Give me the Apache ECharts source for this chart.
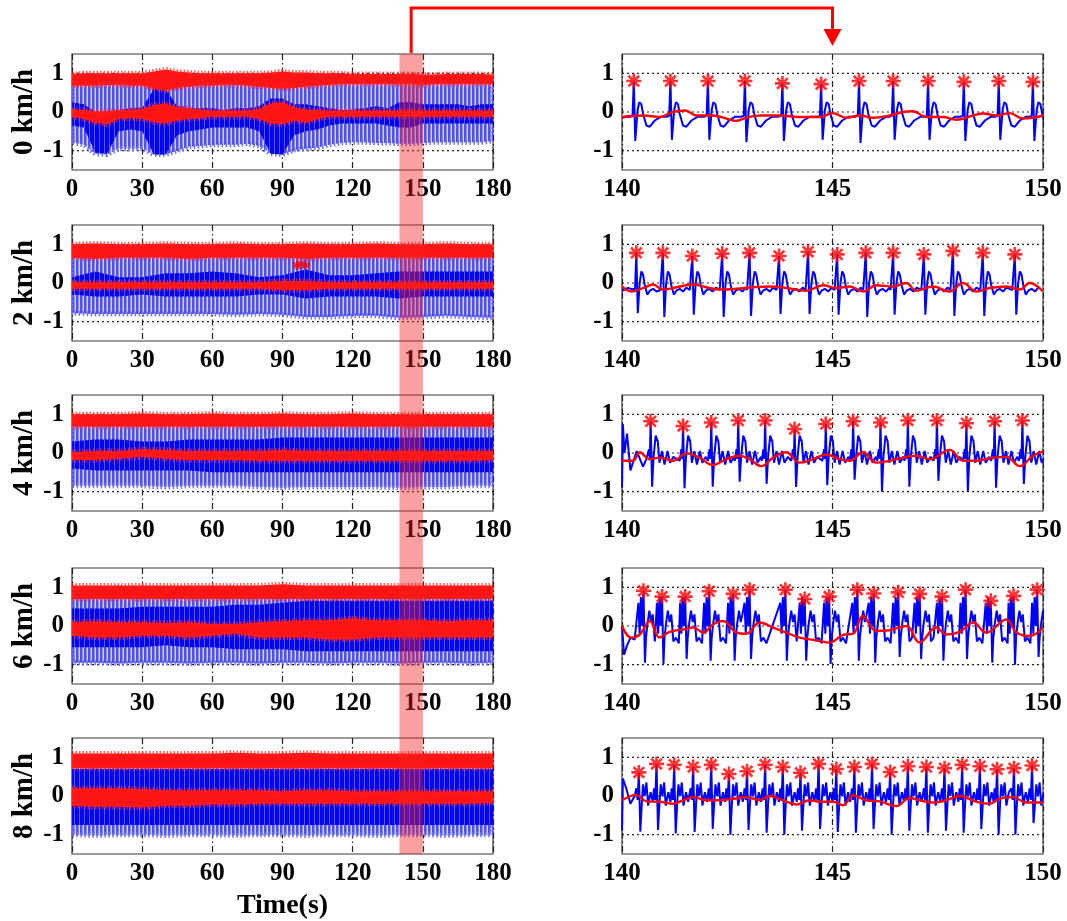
<!DOCTYPE html>
<html><head><meta charset="utf-8">
<script src="https://cdn.jsdelivr.net/npm/echarts@6/dist/echarts.min.js"></script>
<style>html,body{margin:0;padding:0;background:#fff}#c{width:1067px;height:921px}</style>
</head><body><div id="c"></div>
<script>
// ---------------- DATA ----------------
const rowLabels = ['0 km/h','2 km/h','4 km/h','6 km/h','8 km/h'];
const leftTicks = [0,30,60,90,120,150,180];
const rightTicks = [140,145,150];
const yTicks = [-1,0,1];
const envTimes5 = [0,5,10,15,20,25,30,35,40,45,50,55,60,65,70,75,80,85,90,95,100,105,110,115,120,125,130,135,140,145,150,155,160,165,170,175,180];
const envTimes10 = [0,10,20,30,40,50,60,70,80,90,100,110,120,130,140,150,160,170,180];
const envTimes = [envTimes5, envTimes10, envTimes10, envTimes10, envTimes10];

// left column envelopes (row 1 read every 5 s, others every 10 s)
const blueTop = [0.72,0.7,0.7,0.75,0.75];
const outLo = [
 [-0.78,-0.85,-1.08,-1.1,-0.95,-0.95,-0.95,-1.1,-1.1,-1.0,-0.9,-0.88,-0.85,-0.85,-0.85,-0.82,-0.88,-1.08,-1.1,-0.98,-0.95,-0.92,-0.85,-0.8,-0.78,-0.78,-0.8,-0.8,-0.82,-0.82,-0.8,-0.78,-0.78,-0.78,-0.78,-0.78,-0.75],
 [-0.78,-0.8,-0.8,-0.8,-0.8,-0.8,-0.8,-0.82,-0.8,-0.82,-0.88,-0.88,-0.85,-0.85,-0.9,-0.88,-0.85,-0.88,-0.9],
 [-0.85,-0.85,-0.85,-0.85,-0.88,-0.85,-0.85,-0.85,-0.88,-0.9,-0.88,-0.88,-0.88,-0.88,-0.9,-0.88,-0.88,-0.85,-0.85],
 [-0.95,-0.95,-0.97,-0.95,-0.95,-0.97,-0.95,-0.95,-0.97,-0.95,-0.95,-0.97,-0.95,-0.95,-0.97,-0.95,-0.95,-0.97,-0.95],
 [-1.0,-1.02,-1.0,-1.0,-1.02,-1.0,-1.0,-1.02,-1.0,-1.0,-1.02,-1.0,-1.0,-1.02,-1.0,-1.0,-1.02,-1.0,-1.0]
];
const inHi = [
 [0.25,0.2,0.0,0.0,0.05,0.1,0.1,0.6,0.6,0.15,0.1,0.1,0.1,0.05,0.1,0.1,0.15,0.35,0.35,0.2,0.2,0.15,0.1,0.05,0.05,0.1,0.15,0.1,0.25,0.25,0.2,0.2,0.2,0.2,0.15,0.2,0.2],
 [0.15,0.3,0.15,0.15,0.25,0.25,0.3,0.25,0.15,0.2,0.35,0.2,0.2,0.25,0.3,0.3,0.3,0.3,0.3],
 [0.3,0.35,0.35,0.3,0.3,0.35,0.35,0.35,0.35,0.4,0.4,0.4,0.4,0.4,0.4,0.4,0.4,0.4,0.4],
 [0.45,0.45,0.45,0.5,0.5,0.5,0.5,0.55,0.55,0.6,0.65,0.65,0.65,0.65,0.65,0.65,0.65,0.65,0.65],
 [0.7,0.7,0.7,0.7,0.7,0.7,0.7,0.7,0.7,0.7,0.7,0.7,0.7,0.7,0.7,0.7,0.7,0.7,0.7]
];
const inLo = [
 [-0.35,-0.4,-1.05,-1.08,-0.5,-0.45,-0.5,-1.1,-1.1,-0.6,-0.5,-0.45,-0.4,-0.4,-0.4,-0.4,-0.5,-1.08,-1.1,-0.6,-0.5,-0.45,-0.35,-0.3,-0.3,-0.3,-0.3,-0.35,-0.4,-0.4,-0.3,-0.3,-0.3,-0.3,-0.3,-0.3,-0.3],
 [-0.3,-0.35,-0.35,-0.3,-0.35,-0.35,-0.35,-0.35,-0.3,-0.3,-0.4,-0.35,-0.35,-0.35,-0.4,-0.35,-0.35,-0.35,-0.35],
 [-0.4,-0.45,-0.45,-0.45,-0.45,-0.45,-0.5,-0.5,-0.5,-0.5,-0.5,-0.5,-0.5,-0.5,-0.5,-0.5,-0.5,-0.5,-0.5],
 [-0.55,-0.55,-0.55,-0.55,-0.5,-0.55,-0.55,-0.6,-0.6,-0.6,-0.65,-0.65,-0.65,-0.65,-0.65,-0.65,-0.65,-0.65,-0.65],
 [-0.75,-0.75,-0.75,-0.75,-0.75,-0.75,-0.75,-0.75,-0.75,-0.75,-0.75,-0.75,-0.75,-0.75,-0.75,-0.75,-0.75,-0.75,-0.75]
];
const pkHi = [
 [0.98,1.0,1.0,1.0,1.0,1.0,1.0,1.05,1.1,1.05,1.02,1.0,1.0,1.0,1.0,1.0,1.0,1.02,1.05,1.02,1.02,1.0,1.0,1.0,0.98,0.98,0.98,0.98,0.98,0.98,0.97,0.97,0.98,0.98,0.98,0.98,0.97],
 [1.0,1.02,1.0,1.0,1.02,1.0,1.0,1.02,1.0,1.0,1.02,1.0,1.0,1.02,1.0,1.0,1.02,1.0,1.0],
 [1.0,1.0,1.0,1.02,1.0,1.0,1.02,1.0,1.0,1.02,1.0,1.0,1.02,1.0,1.0,1.0,1.0,1.0,1.0],
 [1.05,1.05,1.05,1.05,1.05,1.05,1.05,1.05,1.05,1.08,1.05,1.05,1.05,1.05,1.05,1.05,1.05,1.05,1.05],
 [1.1,1.1,1.1,1.1,1.1,1.1,1.1,1.12,1.1,1.1,1.12,1.1,1.1,1.1,1.1,1.1,1.1,1.1,1.1]
];
const pkLo = [
 [0.68,0.68,0.68,0.7,0.7,0.68,0.68,0.6,0.55,0.62,0.65,0.68,0.68,0.7,0.7,0.68,0.65,0.62,0.6,0.62,0.65,0.68,0.7,0.72,0.72,0.72,0.72,0.72,0.72,0.72,0.7,0.72,0.72,0.72,0.72,0.72,0.72],
 [0.65,0.62,0.65,0.65,0.65,0.62,0.65,0.65,0.65,0.65,0.62,0.65,0.65,0.65,0.65,0.65,0.65,0.65,0.65],
 [0.68,0.68,0.68,0.68,0.68,0.68,0.68,0.68,0.68,0.68,0.68,0.68,0.68,0.68,0.68,0.68,0.68,0.68,0.68],
 [0.7,0.7,0.7,0.7,0.7,0.7,0.7,0.7,0.7,0.7,0.7,0.7,0.7,0.7,0.7,0.7,0.7,0.7,0.7],
 [0.72,0.72,0.72,0.72,0.72,0.72,0.72,0.72,0.72,0.72,0.72,0.72,0.72,0.72,0.72,0.72,0.72,0.72,0.72]
];
const bsHi = [
 [0.06,0.05,0.02,0.02,0.05,0.06,0.08,0.18,0.22,0.12,0.1,0.06,0.04,0.04,0.04,0.04,0.08,0.22,0.25,0.12,0.06,0.05,0.04,0.04,0.04,0.04,0.04,0.04,0.04,0.04,0.04,0.04,0.04,0.04,0.04,0.04,0.04],
 [0.02,0.02,0.02,0.02,0.02,0.02,0.02,0.02,0.02,0.05,0.05,0.02,0.02,0.02,0.02,0.02,0.02,0.02,0.02],
 [0.02,0.05,0.05,0.1,0.08,0.05,0.05,0.05,0.05,0.08,0.05,0.05,0.05,0.05,0.05,0.05,0.05,0.05,0.05],
 [0.1,0.12,0.1,0.1,0.08,0.1,0.05,0.05,0.1,0.12,0.15,0.15,0.2,0.15,0.15,0.15,0.12,0.15,0.15],
 [0.2,0.2,0.2,0.18,0.15,0.15,0.15,0.15,0.15,0.12,0.15,0.15,0.12,0.12,0.12,0.12,0.12,0.12,0.12]
];
const bsLo = [
 [-0.12,-0.18,-0.28,-0.32,-0.18,-0.16,-0.18,-0.26,-0.3,-0.22,-0.18,-0.16,-0.12,-0.12,-0.12,-0.12,-0.18,-0.3,-0.32,-0.22,-0.28,-0.18,-0.12,-0.12,-0.12,-0.12,-0.12,-0.12,-0.12,-0.12,-0.12,-0.12,-0.12,-0.12,-0.12,-0.12,-0.12],
 [-0.15,-0.15,-0.15,-0.15,-0.15,-0.15,-0.15,-0.15,-0.15,-0.18,-0.18,-0.15,-0.15,-0.15,-0.15,-0.15,-0.15,-0.15,-0.15],
 [-0.18,-0.18,-0.15,-0.1,-0.15,-0.18,-0.18,-0.18,-0.2,-0.2,-0.2,-0.2,-0.2,-0.2,-0.2,-0.2,-0.2,-0.2,-0.18],
 [-0.25,-0.3,-0.3,-0.25,-0.25,-0.3,-0.25,-0.2,-0.3,-0.3,-0.3,-0.35,-0.35,-0.3,-0.3,-0.3,-0.3,-0.3,-0.3],
 [-0.25,-0.28,-0.28,-0.3,-0.25,-0.25,-0.22,-0.22,-0.2,-0.2,-0.2,-0.2,-0.2,-0.2,-0.2,-0.2,-0.2,-0.2,-0.18]
];

// right column: R-peak times, peak values (asterisks), S-trough values
const beatT = [
 [140.28,141.15,142.04,142.92,143.81,144.73,145.63,146.44,147.27,148.12,148.95,149.76],
 [140.34,140.97,141.67,142.38,143.03,143.73,144.42,145.11,145.79,146.44,147.17,147.86,148.57,149.33],
 [140.68,141.45,142.12,142.76,143.40,144.10,144.84,145.49,146.14,146.79,147.48,148.18,148.85,149.51],
 [140.51,140.95,141.50,142.07,142.64,143.03,143.88,144.34,144.92,145.59,145.98,146.56,147.07,147.60,148.16,148.76,149.30,149.86],
 [140.40,140.82,141.24,141.69,142.12,142.54,142.97,143.40,143.82,144.24,144.67,145.09,145.52,145.94,146.37,146.79,147.23,147.66,148.08,148.50,148.91,149.31,149.74]
];
const beatV = [
 [0.8,0.8,0.8,0.8,0.74,0.72,0.8,0.8,0.8,0.78,0.8,0.78],
 [0.78,0.78,0.7,0.76,0.78,0.7,0.81,0.74,0.78,0.78,0.74,0.83,0.78,0.74],
 [0.82,0.7,0.79,0.84,0.84,0.62,0.75,0.82,0.79,0.84,0.84,0.77,0.82,0.84],
 [0.91,0.76,0.76,0.9,0.83,0.94,0.94,0.7,0.76,0.94,0.84,0.87,0.83,0.76,0.94,0.65,0.78,0.94],
 [0.61,0.83,0.81,0.75,0.81,0.57,0.64,0.81,0.75,0.6,0.83,0.7,0.75,0.83,0.62,0.77,0.75,0.72,0.81,0.77,0.69,0.72,0.79]
];
const beatS = [
 [-0.75,-0.72,-0.72,-0.78,-0.75,-0.72,-0.8,-0.72,-0.72,-0.75,-0.72,-0.75],
 [-0.78,-0.88,-0.82,-0.88,-0.85,-0.8,-0.8,-0.82,-0.88,-0.82,-0.82,-0.85,-0.85,-0.82],
 [-0.87,-0.91,-0.87,-0.74,-0.8,-0.88,-0.83,-0.69,-1.0,-0.87,-0.72,-1.0,-0.9,-0.8],
 [-0.95,-0.98,-0.85,-0.9,-0.9,-0.85,-0.9,-0.9,-0.98,-0.9,-0.95,-0.8,-0.85,-0.9,-0.85,-0.95,-1.0,-0.8],
 [-0.92,-0.88,-0.97,-0.93,-0.85,-1.0,-0.88,-0.95,-1.0,-0.9,-0.85,-0.93,-0.95,-0.85,-1.0,-0.9,-0.95,-0.9,-0.95,-0.85,-1.0,-1.0,-0.7]
];
// blue trace at start of window, and wave shape before / after each beat [offset s, value]
const leadIn = [
 [[140,-0.15],[140.15,-0.12]],
 [[140,-0.2],[140.14,-0.13],[140.25,-0.16]],
 [[140,-0.9],[140.02,0.75],[140.06,0.0],[140.12,0.5],[140.2,-0.45],[140.35,0.05],[140.5,-0.35],[140.58,-0.15]],
 [[140,0.0],[140.05,-0.74],[140.12,-0.5],[140.2,-0.3],[140.3,-0.35]],
 [[140,-0.9],[140.02,0.45],[140.1,0.2],[140.2,-0.2],[140.3,0.0]]
];
const preWave = [
 [[-0.08,-0.12],[-0.03,-0.1]],
 [[-0.06,-0.18],[-0.03,-0.15]],
 [[-0.08,-0.2],[-0.04,0.1],[-0.02,-0.15]],
 [[-0.12,0.6],[-0.09,-0.2],[-0.06,0.75],[-0.03,0.0]],
 [[-0.06,0.2],[-0.03,-0.1]]
];
const postWave = [
 [[0.09,0.05],[0.13,0.25],[0.18,0.2],[0.22,-0.05],[0.3,-0.35],[0.38,-0.38],[0.5,-0.22],[0.65,-0.12]],
 [[0.08,0.0],[0.12,0.3],[0.16,0.22],[0.2,-0.05],[0.26,-0.3],[0.32,-0.2],[0.4,-0.15],[0.48,-0.22],[0.56,-0.12]],
 [[0.07,-0.1],[0.12,0.45],[0.17,0.3],[0.21,-0.25],[0.27,0.05],[0.33,-0.3],[0.4,0.05],[0.46,-0.25],[0.54,-0.1]],
 [[0.06,-0.3],[0.1,0.1],[0.14,0.4],[0.18,0.1],[0.22,0.3],[0.27,-0.4],[0.33,-0.3],[0.4,-0.45]],
 [[0.07,-0.2],[0.1,0.3],[0.14,0.0],[0.18,0.35],[0.22,-0.25],[0.28,0.1],[0.33,-0.15]]
];
// red low-frequency trace in right column
const redTrace = [
 [[140,-0.13],[140.5,-0.09],[140.9,-0.13],[141.2,0],[141.5,0.04],[141.77,-0.09],[142.16,-0.09],[142.48,-0.17],[142.7,-0.23],[142.95,-0.15],[143.27,-0.09],[143.75,-0.09],[144.2,-0.13],[144.7,-0.13],[145,-0.03],[145.33,-0.15],[145.65,-0.09],[145.96,-0.15],[146.36,-0.09],[146.67,0],[146.91,0.02],[147.23,-0.13],[147.62,-0.13],[147.94,-0.2],[148.34,-0.09],[148.57,-0.04],[148.89,-0.09],[149.2,-0.03],[149.52,-0.17],[149.76,-0.15],[150,-0.09]],
 [[140,-0.09],[140.22,-0.22],[140.5,-0.13],[140.74,-0.04],[140.97,-0.17],[141.29,-0.11],[141.69,-0.04],[142.0,-0.11],[142.32,-0.17],[142.72,-0.15],[143.11,-0.11],[143.5,-0.09],[143.9,-0.13],[144.38,-0.2],[144.77,-0.06],[145.09,-0.13],[145.41,-0.09],[145.72,-0.22],[146.04,-0.06],[146.44,-0.09],[146.75,0],[146.99,-0.2],[147.39,-0.09],[147.78,-0.22],[148.1,0],[148.42,-0.22],[148.73,-0.13],[149.13,-0.09],[149.45,-0.17],[149.68,0],[150,-0.22]],
 [[140,-0.2],[140.26,-0.2],[140.42,0.02],[140.66,-0.16],[140.9,-0.12],[141.21,-0.2],[141.53,-0.01],[141.84,-0.12],[142.16,-0.31],[142.48,-0.16],[142.79,-0.07],[143.03,-0.16],[143.31,-0.34],[143.59,-0.12],[143.9,0.02],[144.22,-0.25],[144.54,-0.16],[144.85,-0.04],[145.17,-0.16],[145.41,-0.2],[145.72,0.02],[146.04,-0.25],[146.36,-0.2],[146.67,-0.12],[146.99,-0.07],[147.31,-0.16],[147.78,0.08],[148.1,-0.2],[148.42,-0.2],[148.81,-0.12],[149.13,-0.1],[149.45,-0.34],[149.76,-0.07],[150,0.04]],
 [[140,0],[140.22,-0.3],[140.42,-0.22],[140.66,0.13],[140.89,-0.3],[141.13,-0.15],[141.45,-0.09],[141.69,-0.04],[141.93,-0.17],[142.16,0.04],[142.4,0.13],[142.72,-0.17],[142.95,-0.2],[143.27,0.09],[143.59,-0.04],[143.9,-0.17],[144.22,-0.3],[144.62,-0.37],[144.93,-0.43],[145.25,-0.23],[145.49,-0.2],[145.72,0.26],[146.04,-0.13],[146.36,-0.11],[146.75,0],[147.07,-0.43],[147.46,-0.04],[147.7,-0.22],[148.02,-0.15],[148.34,0.09],[148.65,-0.17],[149.13,0.17],[149.37,-0.17],[149.68,-0.26],[150,-0.04]],
 [[140,-0.11],[140.34,0.03],[140.58,-0.14],[140.9,-0.15],[141.21,-0.2],[141.45,-0.11],[141.69,-0.03],[142.0,-0.11],[142.32,-0.11],[142.64,-0.07],[142.95,-0.03],[143.27,-0.11],[143.51,0],[143.82,-0.11],[144.14,-0.22],[144.46,-0.11],[144.7,-0.15],[145.02,-0.15],[145.25,-0.24],[145.49,0.02],[145.8,-0.11],[146.12,-0.14],[146.52,-0.26],[146.83,-0.05],[147.07,-0.11],[147.39,-0.17],[147.7,-0.11],[148.02,0],[148.42,-0.15],[148.73,-0.2],[148.97,-0.07],[149.29,-0.03],[149.6,-0.17],[150,-0.17]]
];
const extraPeaks2 = [[96,0.45],[98,0.48],[100,0.46]];
const zoomWindow = [140,150];

// ---------------- BUILD ----------------
const FONT = '"Liberation Serif","Times New Roman",serif';
const tops = [54,225,395,568,738], H = 116;
const LEFT_X = 72, RIGHT_X = 622, W = 421;
const chart = echarts.init(document.getElementById('c'), null, {renderer:'canvas'});

function stripes(cols){
  const c = document.createElement('canvas'); c.width = cols.length; c.height = 4;
  const g = c.getContext('2d');
  cols.forEach((col,i)=>{ g.fillStyle = col; g.fillRect(i,0,1,4); });
  return {image:c, repeat:'repeat'};
}
const lightFill = stripes(['#5050f2','#5050f2','#8c8cf6','#d6d6fb']);
const darkFill = stripes(['#0000f5','#0000f5','#0a0af0','#0000f5','#5a5af0']);
const asterisk = 'path://M10,0L10,20M0,10L20,10M2.9,2.9L17.1,17.1M2.9,17.1L17.1,2.9';
const styles = {
  light: {fill: lightFill, stroke:'#7070f2', lineWidth:5, lineDash:[1.5,2.5]},
  dark:  {fill: darkFill},
  red:   {fill:'#ff1414', stroke:'rgba(255,40,40,0.75)', lineWidth:5, lineDash:[1.5,2]}
};

function band(ax, xs, lo, hi, st, z){
  const L = xs.map((t,i)=>Array.isArray(lo)?lo[i]:lo);
  const U = xs.map((t,i)=>Array.isArray(hi)?hi[i]:hi);
  return {type:'custom', xAxisIndex:ax, yAxisIndex:ax, z, clip:true, silent:true,
    data: xs.map((t,i)=>[t, L[i], U[i]]),
    renderItem:(p,api)=>{
      if (p.dataIndex !== 0) return;
      const pts=[];
      for (let i=0;i<xs.length;i++) pts.push(api.coord([xs[i],U[i]]));
      for (let i=xs.length-1;i>=0;i--) pts.push(api.coord([xs[i],L[i]]));
      return {type:'polygon', shape:{points:pts}, style:Object.assign({}, st)};
    }};
}
function hLines(ax, ys, x0, x1){
  return {type:'custom', xAxisIndex:ax, yAxisIndex:ax, z:1, silent:true,
    data: ys.map(v=>[x0, v]),
    renderItem:(p,api)=>{
      const y = api.value(1);
      const a = api.coord([x0,y]), b = api.coord([x1,y]);
      return {type:'line', shape:{x1:a[0],y1:a[1],x2:b[0],y2:b[1]},
        style:{stroke:'#222', lineWidth:1.2, lineDash:[2,3]}};
    }};
}
function buildTrace(k){
  const out = leadIn[k].slice();
  const T = beatT[k], pre = preWave[k], post = postWave[k];
  for (let i=0;i<T.length;i++){
    const t = T[i];
    const next = i+1<T.length ? T[i+1] : 151;
    const last = out[out.length-1][0];
    pre.forEach(([dt,v])=>{ if (t+dt > last+0.01) out.push([+(t+dt).toFixed(3), v]); });
    out.push([t, beatV[k][i]]);
    out.push([+(t+0.035).toFixed(3), beatS[k][i]]);
    post.forEach(([dt,v])=>{ if (t+dt < next + pre[0][0] - 0.01) out.push([+(t+dt).toFixed(3), v]); });
  }
  return out;
}

const grids=[], xAxes=[], yAxes=[], series=[];
const labelStyle = {color:'#000', fontFamily:FONT, fontWeight:'bold', fontSize:25};
for (let col=0; col<2; col++){
  for (let r=0; r<5; r++){
    const idx = col*5 + r;
    grids.push({left: col?RIGHT_X:LEFT_X, top: tops[r], width: W, height: H,
      show:true, borderColor:'#3a3a3a', borderWidth:1.2, backgroundColor:'#fff', containLabel:false});
    const xmin = col ? zoomWindow[0] : leftTicks[0];
    const xmax = col ? zoomWindow[1] : leftTicks[leftTicks.length-1];
    const xint = col ? rightTicks[1]-rightTicks[0] : leftTicks[1]-leftTicks[0];
    const xa = {type:'value', gridIndex:idx, min:xmin, max:xmax, interval:xint,
      axisLine:{show:false}, axisTick:{show:false},
      axisLabel:{...labelStyle, margin:7, formatter:v=>String(v)},
      splitLine:{show:true, lineStyle:{color:'#222', width:1.2, type:[6,3,1.5,3]}}};
    if (col===0 && r===4){
      Object.assign(xa, {name:'Time(s)', nameLocation:'middle', nameGap:38,
        nameTextStyle:{color:'#000', fontFamily:FONT, fontWeight:'bold', fontSize:28}});
    }
    xAxes.push(xa);
    const ya = {type:'value', gridIndex:idx, min:-1.5, max:1.5, interval:0.5,
      axisLine:{show:false}, axisTick:{show:false}, splitLine:{show:false},
      axisLabel:{...labelStyle, margin:8, formatter:v=> yTicks.includes(v) ? String(v) : ''}};
    if (col===0){
      Object.assign(ya, {name:rowLabels[r], nameLocation:'middle', nameGap:30, nameRotate:90,
        nameTextStyle:{color:'#000', fontFamily:FONT, fontWeight:'bold', fontSize:29}});
    }
    yAxes.push(ya);

    if (col===0){
      const ts = envTimes[r];
      series.push(hLines(idx, [-1,0,1], xmin, xmax));
      series.push(band(idx, ts, outLo[r], blueTop[r], styles.light, 2));
      series.push(band(idx, ts, inLo[r], inHi[r], styles.dark, 3));
      series.push(band(idx, ts, pkLo[r], pkHi[r], styles.red, 4));
      series.push(band(idx, ts, bsLo[r], bsHi[r], styles.red, 5));
      if (r===1){
        series.push({type:'scatter', xAxisIndex:idx, yAxisIndex:idx, z:6, silent:true,
          symbol:asterisk, symbolSize:9, data:extraPeaks2,
          itemStyle:{color:'#ff0000', borderColor:'#ff0000', borderWidth:1.5}});
      }
    } else {
      series.push(hLines(idx, [-1,0,1], xmin, xmax));
      series.push({type:'line', xAxisIndex:idx, yAxisIndex:idx, z:3, silent:true,
        showSymbol:false, data: buildTrace(r), clip:true,
        lineStyle:{color:'#0000ff', width:2}});
      series.push({type:'line', xAxisIndex:idx, yAxisIndex:idx, z:4, silent:true,
        showSymbol:false, smooth:0.4, data: redTrace[r], clip:true,
        lineStyle:{color:'#ff0000', width:2.4}});
      series.push({type:'scatter', xAxisIndex:idx, yAxisIndex:idx, z:5, silent:true,
        symbol:asterisk, symbolSize:15, symbolKeepAspect:true,
        data: beatT[r].map((t,i)=>[t, beatV[r][i]]),
        itemStyle:{color:'#ff0000', borderColor:'#ff0000', borderWidth:2.6}});
    }
  }
}

chart.setOption({animation:false, backgroundColor:'#fff', grid:grids, xAxis:xAxes, yAxis:yAxes, series});

// highlight band and arrow positioned through the axes
const xs140 = chart.convertToPixel({xAxisIndex:0}, zoomWindow[0]);
const xs150 = chart.convertToPixel({xAxisIndex:0}, zoomWindow[1]);
const xaL = chart.convertToPixel({xAxisIndex:0}, (zoomWindow[0]+zoomWindow[1])/2);
const xaR = chart.convertToPixel({xAxisIndex:5}, (zoomWindow[0]+zoomWindow[1])/2);
const yTop = tops[0], yBot = tops[4]+H;
chart.setOption({graphic:[
  {type:'rect', z:100, silent:true, shape:{x:xs140, y:yTop, width:xs150-xs140, height:yBot-yTop},
   style:{fill:'rgba(240,30,30,0.42)'}},
  {type:'polyline', z:101, silent:true, shape:{points:[[xaL,yTop-1],[xaL,8],[xaR,8],[xaR,32]]},
   style:{stroke:'#ff0000', lineWidth:3, fill:null}},
  {type:'polygon', z:101, silent:true, shape:{points:[[xaR-9,29],[xaR+9,29],[xaR,46]]},
   style:{fill:'#ff0000'}}
]});
</script></body></html>
